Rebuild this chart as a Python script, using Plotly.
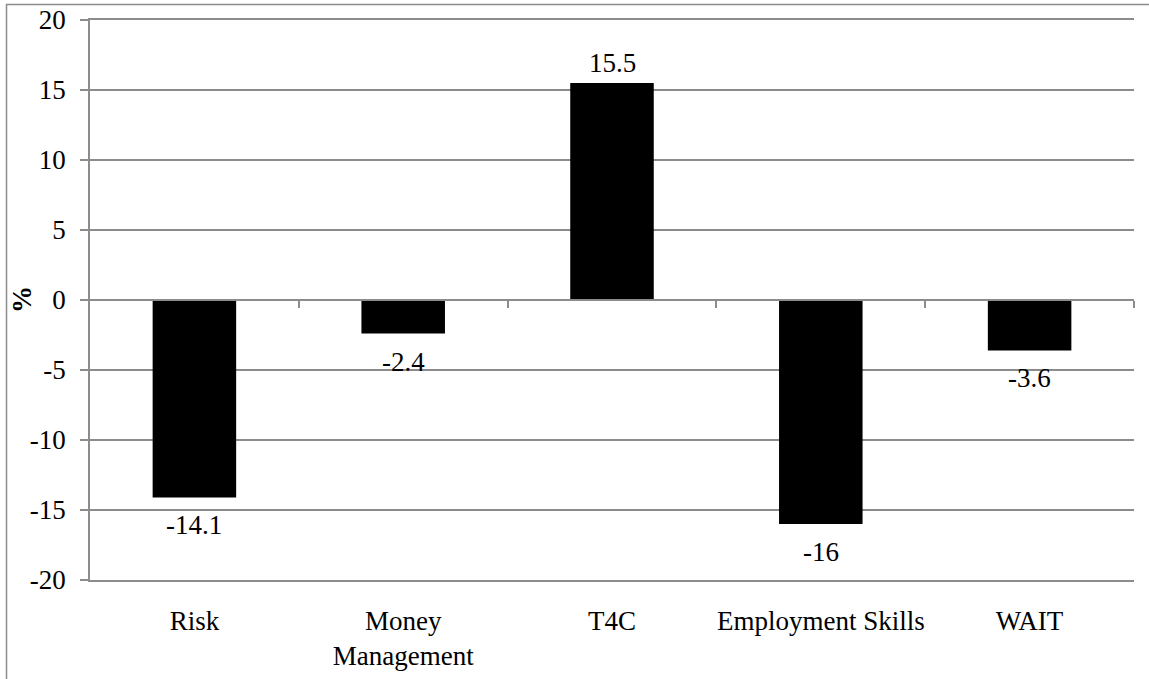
import plotly.graph_objects as go

# Program categories and change in percent
categories = ["Risk", "Money<br>Management", "T4C", "Employment Skills", "WAIT"]
values = [-14.1, -2.4, 15.5, -16, -3.6]
y_ticks = [-20, -15, -10, -5, 0, 5, 10, 15, 20]

FONT = "Liberation Serif"
GRID = "#8c8c8c"
SIZE = 27

fig = go.Figure()

fig.add_trace(go.Bar(
    x=list(range(len(categories))),
    y=values,
    marker=dict(color="black", line=dict(width=0)),
    hoverinfo="skip",
))

# value labels just beyond the end of each bar
for i, v in enumerate(values):
    fig.add_annotation(
        x=i, y=v, xref="x", yref="y",
        text=f"{v:g}", showarrow=False,
        yshift=20 if v >= 0 else -28,
        xanchor="center", yanchor="middle",
        font=dict(family=FONT, size=SIZE, color="black"),
    )

fig.update_layout(
    width=1149,
    height=679,
    margin=dict(l=90, r=15, t=20, b=99, autoexpand=False),
    paper_bgcolor="white",
    plot_bgcolor="white",
    showlegend=False,
    bargap=0.6,
    font=dict(family=FONT, size=SIZE, color="black"),
    xaxis=dict(
        range=[-0.5, 4.5],
        tickvals=list(range(len(categories))),
        ticktext=categories,
        showgrid=False,
        zeroline=False,
        showline=True,
        mirror=True,
        linecolor=GRID,
        linewidth=1.5,
        ticks="",
        automargin=False,
        ticklabelstandoff=16,
        tickfont=dict(family=FONT, size=SIZE, color="black"),
    ),
    # category boundary ticks along the zero line
    xaxis2=dict(
        overlaying="x",
        anchor="free",
        position=0.5,
        side="bottom",
        range=[-0.5, 4.5],
        tickvals=[0.5, 1.5, 2.5, 3.5, 4.5],
        ticks="outside",
        ticklen=7,
        tickwidth=1.5,
        tickcolor=GRID,
        showticklabels=False,
        showgrid=False,
        zeroline=False,
        showline=True,
        linecolor=GRID,
        linewidth=1.5,
        automargin=False,
    ),
    yaxis=dict(
        range=[-20, 20],
        tickvals=y_ticks,
        ticktext=[str(t) for t in y_ticks],
        ticks="outside",
        ticklen=8,
        tickwidth=1.5,
        tickcolor=GRID,
        showgrid=True,
        gridcolor=GRID,
        gridwidth=1.5,
        zeroline=False,
        showline=True,
        linecolor=GRID,
        linewidth=1.5,
        automargin=False,
        ticklabelstandoff=9,
        tickfont=dict(family=FONT, size=SIZE, color="black"),
    ),
)

# invisible trace so the boundary-tick axis is rendered
fig.add_trace(go.Scatter(x=[0], y=[0], xaxis="x2", mode="markers",
                         marker=dict(opacity=0), hoverinfo="skip"))

fig.add_annotation(
    text="<b>%</b>", xref="paper", yref="paper",
    x=(22 - 90) / 1044, y=0.5, xanchor="center", yanchor="middle",
    textangle=-90, showarrow=False,
    font=dict(family=FONT, size=SIZE, color="black"),
)

# outer chart frame
fig.add_shape(
    type="rect", xref="paper", yref="paper",
    x0=(6.5 - 90) / 1044, x1=1.2, y0=-0.3, y1=(580 - 4.5) / 560,
    line=dict(color=GRID, width=1.5), fillcolor="rgba(0,0,0,0)", layer="below",
)

fig.write_html("out.html")
